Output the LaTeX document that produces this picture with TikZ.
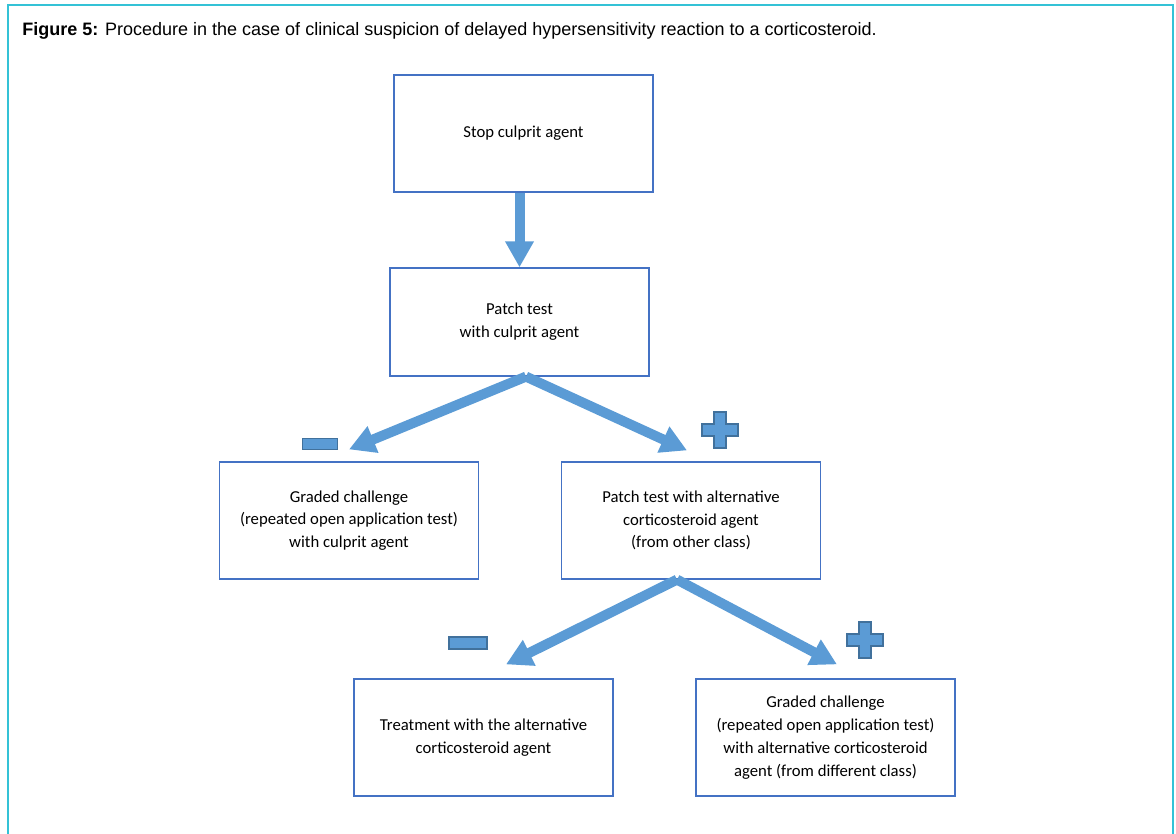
\documentclass[tikz,border=0pt]{standalone}
\usepackage{fontspec}
\setmainfont{Carlito}
\newfontfamily\arialfont{Liberation Sans}
\usetikzlibrary{arrows.meta}

\definecolor{boxblue}{RGB}{68,114,196}
\definecolor{arrowblue}{RGB}{91,155,213}
\definecolor{signedge}{RGB}{65,113,156}
\definecolor{framecyan}{RGB}{52,194,214}

\tikzset{
	plussign/.pic={
		\draw[sign] (-6,-18) -- (6,-18) -- (6,-6) -- (18,-6) -- (18,6) -- (6,6) -- (6,18) -- (-6,18) -- (-6,6) -- (-18,6) -- (-18,-6) -- (-6,-6) -- cycle;
	}
}

\begin{document}
\begin{tikzpicture}[x=0.02cm,y=-0.02cm,
		stepbox/.style={draw=boxblue,line width=0.7pt,minimum width=5.18cm,minimum height=2.34cm,align=center,font=\fontsize{9.5}{13}\selectfont},
		bigarrow/.style={draw=arrowblue,line width=0.2cm,-{Triangle[width=0.54cm,length=0.52cm]}},
		sign/.style={fill=arrowblue,draw=signedge,line width=0.6pt}]
			\useasboundingbox (0,0) rectangle (1176,834);
			\draw[framecyan,line width=1.3pt] (8,834) -- (8,5) -- (1173,5) -- (1173,834);
			\node [anchor=base west,inner sep=0pt,font=\arialfont\fontsize{10.25}{12}\selectfont] (title) at (22,36) {\textbf{Figure 5:} Procedure in the case of clinical suspicion of delayed hypersensitivity reaction to a corticosteroid.};
			% boxes
			\node [stepbox] (stop) at (523.5,133.5) {Stop culprit agent};
			\node [stepbox,minimum height=2.16cm] (patch) at (519.5,322) {Patch test\\with culprit agent};
			\node [stepbox] (grade) at (349,520.5) {Graded challenge\\(repeated open application test)\\with culprit agent};
			\node [stepbox] (alt) at (691,520.5) {Patch test with alternative\\corticosteroid agent\\(from other class)};
			\node [stepbox] (treat) at (483.5,737.5) {Treatment with the alternative\\corticosteroid agent};
			\node [stepbox] (altgrade) at (825.5,737.5) {Graded challenge\\(repeated open application test)\\with alternative corticosteroid\\agent (from different class)};
			% arrows
			\draw [bigarrow] (stop.south -| patch.north) -- (patch.north);
			\draw [bigarrow] ([xshift=0.13cm]patch.south) -- ([yshift=0.24cm]grade.north);
			\draw [bigarrow] ([xshift=0.13cm]patch.south) -- ([yshift=0.22cm,xshift=-0.08cm]alt.north);
			\draw [bigarrow] ([xshift=-0.28cm]alt.south) -- ([xshift=0.45cm,yshift=0.28cm]treat.north);
			\draw [bigarrow] ([xshift=-0.28cm]alt.south) -- ([xshift=0.23cm,yshift=0.28cm]altgrade.north);
			% signs
			\node [sign,minimum width=0.7cm,minimum height=0.22cm,inner sep=0pt] (minus1) at (320,444) {};
			\node [sign,minimum width=0.76cm,minimum height=0.24cm,inner sep=0pt] (minus2) at (468,643) {};
			\pic at (720,430) {plussign};
			\pic at (865,640) {plussign};
		\end{tikzpicture}
\end{document}
